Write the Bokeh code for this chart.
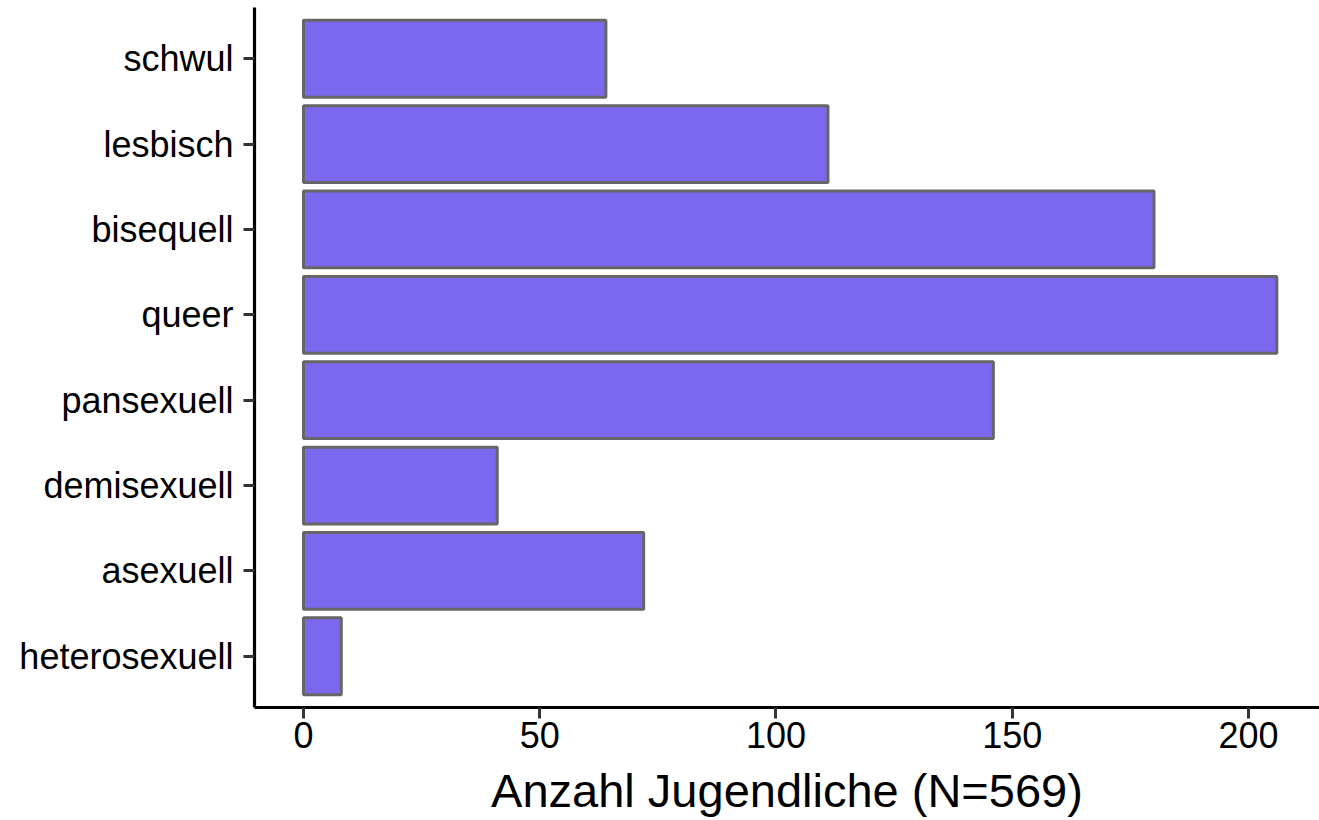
from bokeh.plotting import figure
from bokeh.models import FactorRange, Range1d, FixedTicker, ColumnDataSource
from bokeh.embed import file_html
from bokeh.resources import INLINE

categories = ["schwul", "lesbisch", "bisequell", "queer", "pansexuell",
              "demisexuell", "asexuell", "heterosexuell"]
counts = [64, 111, 180, 206, 146, 41, 72, 8]
x_ticks = [0, 50, 100, 150, 200]
x_axis_title = "Anzahl Jugendliche (N=569)"

source = ColumnDataSource(dict(cat=categories, n=counts))

p = figure(width=1319, height=820, output_backend="svg", toolbar_location=None,
           y_range=FactorRange(factors=list(reversed(categories)),
                               range_padding=0.1, range_padding_units="absolute"),
           x_range=Range1d(-10.37, 215.03),
           min_border_left=254, min_border_top=7, min_border_right=0,
           min_border_bottom=113)

p.hbar(y="cat", left=0, right="n", height=0.9, source=source,
       fill_color="#7B68EE", line_color="#666666", line_width=3)

for ax in (p.xaxis[0], p.yaxis[0]):
    ax.axis_line_color = "black"
    ax.axis_line_width = 3.2
    ax.major_tick_line_color = "#333333"
    ax.major_tick_line_width = 3
    ax.major_tick_out = 11
    ax.major_tick_in = 0
    ax.minor_tick_line_color = None
    ax.major_label_text_font = "Liberation Sans"
    ax.major_label_text_font_size = "36px"
    ax.major_label_text_color = "black"

p.yaxis.major_label_standoff = 10
p.xaxis.major_label_standoff = 3
p.xaxis.ticker = FixedTicker(ticks=x_ticks)
p.xaxis.axis_label = x_axis_title
p.xaxis.axis_label_text_font = "Liberation Sans"
p.xaxis.axis_label_text_font_size = "47px"
p.xaxis.axis_label_text_font_style = "normal"
p.xaxis.axis_label_text_color = "black"
p.xaxis.axis_label_standoff = 13

p.grid.visible = False
p.outline_line_color = None
p.background_fill_color = "white"
p.border_fill_color = "white"

open("out.html", "w").write(file_html(p, INLINE))
